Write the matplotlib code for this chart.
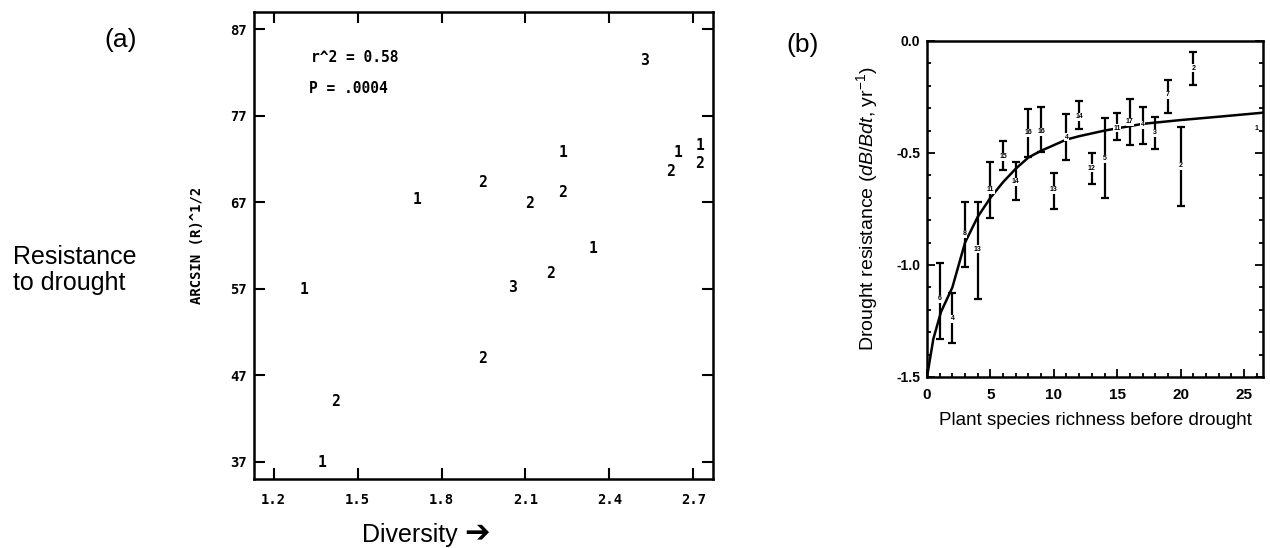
import matplotlib
matplotlib.use('Agg')
import matplotlib.pyplot as plt
from matplotlib.ticker import MultipleLocator

plt.rcParams['font.family'] = ['Liberation Sans', 'DejaVu Sans']
plt.rcParams['mathtext.fontset'] = 'custom'
plt.rcParams['mathtext.rm'] = 'Liberation Sans'
plt.rcParams['mathtext.it'] = 'Liberation Sans:italic'

# панель (a): разнообразие против устойчивости
div_x = [1.308, 1.374, 1.422, 1.712, 1.948, 1.946, 2.054, 2.113, 2.188,
         2.234, 2.234, 2.34, 2.526, 2.617, 2.644, 2.722, 2.722]
arcsin_y = [56.9, 36.9, 44.0, 67.3, 69.3, 48.9, 57.2, 66.8, 58.8,
            72.7, 68.1, 61.6, 83.4, 70.5, 72.7, 73.6, 71.5]
counts = ['1', '1', '2', '1', '2', '2', '3', '2', '2',
          '1', '2', '1', '3', '2', '1', '1', '2']
a_xticks = [1.2, 1.5, 1.8, 2.1, 2.4, 2.7]
a_yticks = [37, 47, 57, 67, 77, 87]

# панель (b): число видов против устойчивости
richness = [1, 2, 3, 4, 5, 6, 7, 8, 9, 10, 11, 12, 13, 14, 15, 16, 17, 18, 19, 20, 21]
res_top = [-0.99, -1.125, -0.72, -0.72, -0.54, -0.445, -0.54, -0.305, -0.296, -0.588, -0.326,
           -0.27, -0.50, -0.345, -0.323, -0.259, -0.296, -0.338, -0.174, -0.383, -0.05]
res_bot = [-1.33, -1.35, -1.01, -1.15, -0.79, -0.576, -0.71, -0.516, -0.494, -0.75, -0.53,
           -0.395, -0.638, -0.702, -0.44, -0.464, -0.46, -0.48, -0.32, -0.737, -0.196]
res_mean = [-1.15, -1.24, -0.86, -0.93, -0.665, -0.516, -0.628, -0.41, -0.405, -0.665, -0.43,
            -0.338, -0.568, -0.525, -0.39, -0.36, -0.375, -0.41, -0.24, -0.557, -0.122]
n_plots = ['6', '4', '8', '13', '11', '15', '14', '16', '16', '13', '4',
           '14', '12', '5', '11', '17', '4', '3', '7', '2', '2']
single_x = [26]
single_y = [-0.39]
curve_x = [0, 0.5, 1.1, 2, 3, 4, 5, 6, 7, 8, 9, 10, 11, 12, 14, 17, 20, 23, 26.5]
curve_y = [-1.5, -1.33, -1.21, -1.1, -0.9, -0.785, -0.70, -0.63, -0.57, -0.52, -0.49,
           -0.465, -0.44, -0.425, -0.40, -0.37, -0.353, -0.338, -0.32]

W, H = 1270, 548
fig = plt.figure(figsize=(12.7, 5.48), dpi=100)

# --- (a)
mono = 'DejaVu Sans Mono'
axa = fig.add_axes([254 / W, (H - 479) / H, 459 / W, 467 / H])
for x, y, c in zip(div_x, arcsin_y, counts):
    axa.text(x, y, c, ha='center', va='center', fontsize=10.5,
             family=mono, fontweight='bold')
axa.text(1.333, 83.7, 'r^2 = 0.58', ha='left', va='center', fontsize=10.5,
         family=mono, fontweight='bold')
axa.text(1.327, 80.2, 'P = .0004', ha='left', va='center', fontsize=10.5,
         family=mono, fontweight='bold')
axa.set_xlim(1.13, 2.77)
axa.set_ylim(35, 89)
axa.set_xticks(a_xticks)
axa.set_yticks(a_yticks)
axa.set_xticklabels([f'{v:.1f}' for v in a_xticks], family=mono, fontweight='bold')
axa.set_yticklabels([str(v) for v in a_yticks], family=mono, fontweight='bold')
axa.tick_params(direction='in', length=8, width=1.5, top=True, right=True, labelsize=10)
axa.tick_params(axis='x', pad=10)
axa.tick_params(axis='y', pad=5)
for s in axa.spines.values():
    s.set_linewidth(1.8)
axa.set_ylabel('ARCSIN (R)^1/2', family=mono, fontweight='bold', fontsize=10)
axa.yaxis.set_label_coords(-0.109, 0.5)

fig.text(121 / W, 1 - 40 / H, '(a)', fontsize=19, ha='center', va='center')
fig.text(13 / W, 1 - 270 / H, 'Resistance\nto drought', fontsize=18,
         ha='left', va='center', linespacing=1.1)
fig.text(362 / W, 1 - 535 / H, 'Diversity', fontsize=18, ha='left', va='center')
fig.text(464 / W, 1 - 533 / H, '➔', fontsize=22, ha='left', va='center',
         family='DejaVu Sans')

# --- (b)
axb = fig.add_axes([927 / W, (H - 377) / H, 336 / W, 336 / H])
err_lo = [m - b for m, b in zip(res_mean, res_bot)]
err_hi = [t - m for t, m in zip(res_top, res_mean)]
axb.plot(curve_x, curve_y, color='black', lw=1.8, zorder=2)
axb.errorbar(richness, res_mean, yerr=[err_lo, err_hi], fmt='none', ecolor='black',
             elinewidth=1.6, capsize=3, capthick=1.6, zorder=3)
for x, m, lab in zip(richness, res_mean, n_plots):
    axb.text(x, m, lab, ha='center', va='center', fontsize=5, fontweight='bold',
             bbox=dict(facecolor='white', edgecolor='none', pad=0.3), zorder=4)
for x, y in zip(single_x, single_y):
    axb.text(x, y, '1', ha='center', va='center', fontsize=5, fontweight='bold')
axb.set_xlim(0, 26.5)
axb.set_ylim(-1.5, 0.0)
axb.set_xticks([0, 5, 10, 15, 20, 25])
axb.set_yticks([0.0, -0.5, -1.0, -1.5])
axb.set_yticklabels(['0.0', '-0.5', '-1.0', '-1.5'])
axb.xaxis.set_minor_locator(MultipleLocator(1))
axb.yaxis.set_minor_locator(MultipleLocator(0.1))
axb.tick_params(which='both', direction='in', right=True, width=1.3)
axb.tick_params(which='major', length=6)
axb.tick_params(which='minor', length=3)
axb.tick_params(axis='x', labelsize=11, pad=8)
axb.tick_params(axis='y', labelsize=10, pad=5)
for lab in axb.get_xticklabels() + axb.get_yticklabels():
    lab.set_fontweight('bold')
for s in axb.spines.values():
    s.set_linewidth(1.8)
axb.set_xlabel('Plant species richness before drought', fontsize=13.5)
axb.xaxis.set_label_coords(0.5, -0.105)
axb.set_ylabel(r'Drought resistance ($dB/Bdt$, yr$^{-1}$)', fontsize=14)
axb.yaxis.set_label_coords(-0.14, 0.5)

fig.text(803 / W, 1 - 45 / H, '(b)', fontsize=19, ha='center', va='center')

fig.savefig('out.png', dpi=100)
